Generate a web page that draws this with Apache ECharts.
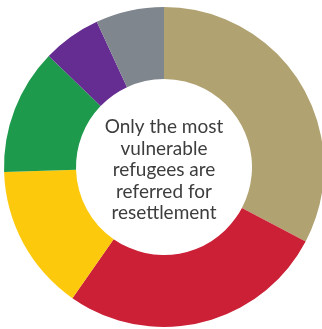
<!DOCTYPE html>
<html>
<head>
<meta charset="utf-8">
<script src="https://cdn.jsdelivr.net/npm/echarts@6/dist/echarts.min.js"></script>
<style>
  html, body { margin: 0; padding: 0; background: #fff; }
  #chart { width: 322px; height: 329px; }
</style>
</head>
<body>
<div id="chart"></div>
<script>
  // slice shares, clockwise from 12 o'clock
  var categories = ['Tan', 'Red', 'Yellow', 'Green', 'Purple', 'Grey'];
  var values = [32.7, 27.0, 14.8, 12.7, 5.9, 6.9];
  var colors = ['#b1a272', '#cc2036', '#fcc90d', '#1d9a4b', '#652d91', '#7f868d'];
  var centerLines = ['Only the most', 'vulnerable', 'refugees are', 'referred for', 'resettlement'];

  var chart = echarts.init(document.getElementById('chart'));

  var data = categories.map(function (name, i) {
    return { name: name, value: values[i], itemStyle: { color: colors[i] } };
  });

  chart.setOption({
    animation: false,
    series: [{
      type: 'pie',
      center: [164, 167],
      radius: [88, 160],
      startAngle: 90,
      clockwise: true,
      label: { show: false },
      labelLine: { show: false },
      emphasis: { disabled: true },
      data: data
    }],
    graphic: [{
      type: 'text',
      x: 164,
      y: 170,
      style: {
        text: centerLines.join('\n'),
        align: 'center',
        verticalAlign: 'middle',
        font: '19px Lato',
        lineHeight: 21.5,
        fill: '#3d3d3d'
      }
    }]
  });
</script>
</body>
</html>
